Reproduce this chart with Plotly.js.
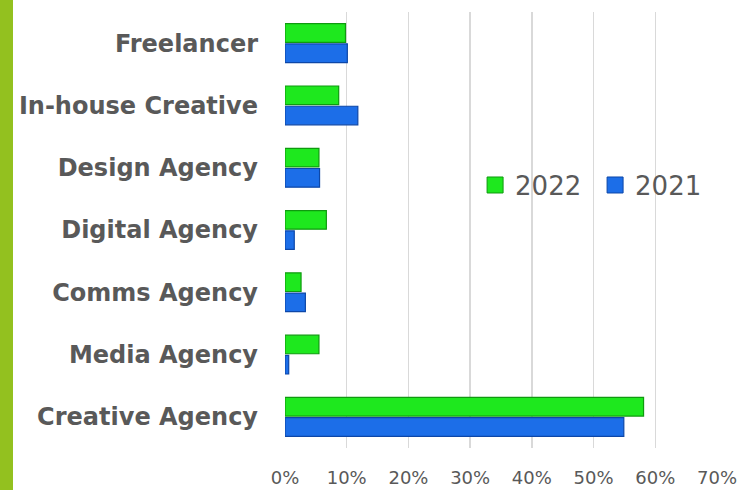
<!DOCTYPE html>
<html>
<head>
<meta charset="utf-8">
<script src="https://cdn.plot.ly/plotly-3.0.1.min.js"></script>
<style>html,body{margin:0;padding:0;background:#fff;}#chart{width:738px;height:490px;}</style>
</head>
<body>
<div id="chart"></div>
<script>
// Categories listed bottom to top
var categories = ["Creative Agency", "Media Agency", "Comms Agency", "Digital Agency", "Design Agency", "In-house Creative", "Freelancer"];
var values2021 = [0.549, 0.006, 0.033, 0.015, 0.056, 0.118, 0.101];
var values2022 = [0.581, 0.055, 0.026, 0.067, 0.055, 0.087, 0.098];
var seriesNames = ["2021", "2022"];
var xTickVals = [0, 0.1, 0.2, 0.3, 0.4, 0.5, 0.6, 0.7];
var xTickText = ["0%", "10%", "20%", "30%", "40%", "50%", "60%", "70%"];

var blue = "#1c6ee8", blueEdge = "#0d47a8";
var green = "#1ee81e", greenEdge = "#0f9a0f";

var traces = [
  {type: "bar", orientation: "h", name: seriesNames[0], y: categories, x: values2021,
   marker: {color: blue, line: {color: blueEdge, width: 1.2}}, showlegend: false, hoverinfo: "x+y"},
  {type: "bar", orientation: "h", name: seriesNames[1], y: categories, x: values2022,
   marker: {color: green, line: {color: greenEdge, width: 1.2}}, showlegend: false, hoverinfo: "x+y"},
  // legend entries
  {type: "scatter", mode: "markers", name: seriesNames[1], x: [null], y: [null],
   marker: {symbol: "square", size: 16, color: green, line: {color: greenEdge, width: 1}}, legendrank: 1},
  {type: "scatter", mode: "markers", name: seriesNames[0], x: [null], y: [null],
   marker: {symbol: "square", size: 16, color: blue, line: {color: blueEdge, width: 1}}, legendrank: 2}
];

var layout = {
  width: 738, height: 490,
  margin: {l: 285, r: 21, t: 12, b: 42},
  paper_bgcolor: "#ffffff", plot_bgcolor: "#ffffff",
  barmode: "group", bargap: 0.35, bargroupgap: 0.08,
  font: {family: "DejaVu Sans, sans-serif", color: "#595959"},
  xaxis: {
    range: [0, 0.7], tickvals: xTickVals, ticktext: xTickText,
    showgrid: true, gridcolor: "#d9d9d9", gridwidth: 1.5,
    zeroline: false, showline: false, ticks: "",
    tickfont: {size: 18, color: "#595959"}, ticklabelstandoff: 17, fixedrange: true
  },
  yaxis: {
    type: "category", categoryorder: "array", categoryarray: categories,
    showgrid: false, zeroline: false, showline: false, ticks: "",
    tickfont: {size: 24, color: "#595959", weight: "bold"}, ticklabelstandoff: 26, fixedrange: true
  },
  legend: {
    orientation: "h", x: 0.44, y: 0.603, xanchor: "left", yanchor: "middle",
    bgcolor: "rgba(0,0,0,0)", font: {size: 26, color: "#595959"},
    entrywidth: 75, entrywidthmode: "pixels",
    itemclick: false, itemdoubleclick: false
  },
  shapes: [
    {type: "rect", xref: "paper", yref: "paper", xsizemode: "pixel", xanchor: 0,
     x0: -285, x1: -272, y0: -0.2, y1: 1.1, fillcolor: "#93c11f", line: {width: 0}, layer: "below"}
  ]
};

Plotly.newPlot("chart", traces, layout, {displayModeBar: false, staticPlot: true});
</script>
</body>
</html>
